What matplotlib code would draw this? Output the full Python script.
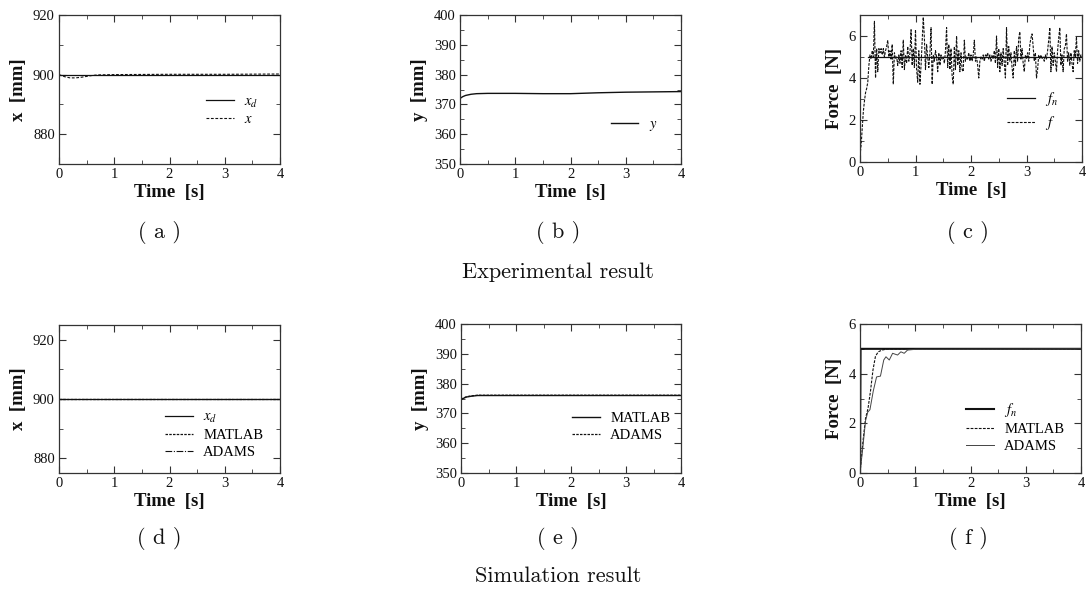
import numpy as np
import matplotlib
matplotlib.use("Agg")
import matplotlib.pyplot as plt
from matplotlib.ticker import MultipleLocator

plt.rcParams["font.family"] = ["Liberation Serif", "DejaVu Serif"]
plt.rcParams["mathtext.fontset"] = "stix"

W, H = 1090, 594
INK = "#111111"
SPINE = "#333333"

# ---- (a) experimental x ----
t_a = [0.0, 0.1, 0.2, 0.3, 0.4, 0.5, 0.6, 0.7, 1.0, 2.0, 3.0, 4.0]
xd_a = [900.0] * len(t_a)
x_a = [900.0, 899.3, 898.9, 898.9, 899.1, 899.4, 899.7, 899.9, 900.0, 900.1, 900.1, 900.2]

# ---- (b) experimental y ----
t_b = [0.0, 0.05, 0.1, 0.2, 0.3, 0.5, 1.0, 1.5, 2.0, 2.5, 3.0, 3.5, 4.0]
y_b = [372.0, 372.6, 373.0, 373.4, 373.6, 373.7, 373.7, 373.6, 373.6, 373.9, 374.1, 374.2, 374.3]

# ---- (c) experimental force ----
t_fn_c = [0.15, 4.0]
fn_c = [5.0, 5.0]
f_c = [
    0.3, 0.8, 1.6, 2.4, 2.9, 3.3, 3.5, 3.8, 4.6, 5.1,
    4.9, 5.3, 5.0, 6.7, 4.0, 5.4, 4.3, 5.4, 5.2, 5.4,
    5.1, 5.4, 5.0, 5.3, 5.5, 5.8, 5.0, 5.3, 4.9, 5.6,
    3.7, 5.2, 4.9, 5.0, 4.6, 5.1, 4.7, 5.3, 4.5, 5.8,
    4.4, 5.1, 4.7, 5.5, 4.8, 5.2, 6.3, 4.6, 5.4, 4.5,
    6.3, 4.4, 3.8, 5.3, 3.7, 4.6, 5.7, 6.9, 5.9, 4.4,
    5.6, 5.0, 4.5, 5.2, 6.4, 3.7, 5.1, 4.8, 5.3, 5.0,
    4.3, 5.2, 4.6, 5.1, 4.9, 5.0, 4.7, 5.3, 6.4, 4.5,
    5.6, 4.4, 5.4, 4.1, 3.7, 5.5, 4.4, 6.0, 4.6, 5.3,
    4.3, 5.2, 4.4, 4.3, 5.8, 4.8, 5.0, 4.9, 5.2, 4.8,
    5.1, 4.8, 5.1, 5.8, 4.8, 5.0, 4.6, 4.0, 4.8, 5.0,
    4.9, 5.1, 4.8, 5.1, 5.0, 5.2, 4.9, 5.1, 4.8, 5.1,
    4.9, 5.3, 4.7, 6.0, 4.5, 5.4, 4.3, 5.2, 4.6, 5.4,
    4.7, 4.0, 6.4, 4.6, 5.5, 4.8, 5.2, 4.5, 4.0, 5.3,
    4.6, 5.5, 4.8, 5.9, 6.2, 4.9, 5.4, 4.7, 4.3, 5.1,
    4.9, 5.2, 4.8, 5.6, 5.9, 6.1, 5.5, 4.8, 5.2, 4.0,
    4.4, 5.1, 4.9, 5.1, 4.9, 5.0, 4.8, 5.1, 4.9, 5.3,
    5.8, 6.4, 4.3, 5.5, 4.6, 5.2, 4.8, 4.3, 5.3, 5.9,
    6.4, 4.6, 5.1, 4.3, 5.4, 5.5, 6.1, 4.8, 5.2, 4.6,
    5.2, 4.7, 4.3, 5.3, 5.0, 5.96, 4.7, 5.3, 4.8, 5.1,
    5.0,
]
t_c = np.linspace(0, 4, len(f_c))

# ---- (d) simulated x ----
t_d = [0.0, 4.0]
xd_d = [900.0, 900.0]
matlab_d = [900.0, 900.0]
adams_d = [900.0, 900.0]

# ---- (e) simulated y ----
t_e = [0.0, 0.05, 0.1, 0.2, 0.3, 0.5, 1.0, 2.0, 3.0, 4.0]
matlab_e = [374.6, 375.1, 375.5, 375.8, 376.0, 376.0, 376.0, 376.0, 376.0, 376.0]
adams_e = [374.7, 375.2, 375.6, 375.9, 376.1, 376.1, 376.1, 376.1, 376.1, 376.1]

# ---- (f) simulated force ----
t_fn_f = [0.0, 0.01, 4.0]
fn_f = [0.0, 5.0, 5.0]
t_mat_f = [0.0, 0.05, 0.1, 0.145, 0.19, 0.235, 0.28, 0.33, 0.4, 0.5, 4.0]
mat_f = [0.0, 1.2, 2.2, 2.6, 3.3, 4.15, 4.7, 4.88, 4.95, 5.0, 5.0]
t_ad_f = [0.0, 0.05, 0.1, 0.14, 0.18, 0.24, 0.3, 0.37, 0.43, 0.47, 0.53, 0.59, 0.68,
          0.74, 0.8, 0.86, 1.0, 4.0]
ad_f = [0.0, 1.0, 2.1, 2.45, 2.55, 3.3, 3.87, 3.9, 4.55, 4.68, 4.55, 4.82, 4.75,
        4.88, 4.82, 4.95, 4.98, 5.0]

captions_top = ["( a )", "( b )", "( c )"]
captions_bot = ["( d )", "( e )", "( f )"]

fig = plt.figure(figsize=(W / 100, H / 100), dpi=100, facecolor="white")


def make_ax(l, t, r, b):
    ax = fig.add_axes([l / W, 1 - b / H, (r - l) / W, (b - t) / H])
    for s in ax.spines.values():
        s.set_color(SPINE)
        s.set_linewidth(0.9)
    ax.tick_params(which="both", direction="in", top=True, right=True,
                   colors=SPINE, labelcolor=INK, labelsize=10.5, pad=3)
    ax.tick_params(which="major", length=5, width=0.8)
    ax.tick_params(which="minor", length=3, width=0.6)
    ax.set_xlim(0, 4)
    ax.xaxis.set_major_locator(MultipleLocator(1))
    ax.xaxis.set_minor_locator(MultipleLocator(0.5))
    ax.set_xlabel("Time  [s]", fontsize=13.5, fontweight="bold", color=INK, labelpad=2)
    return ax


def leg(ax, x, y, spacing=0.25):
    return ax.legend(loc="upper left", bbox_to_anchor=(x, y), frameon=False, fontsize=10.5,
                     handlelength=1.9, handletextpad=0.7, labelspacing=spacing,
                     borderaxespad=0)


lefts = [59, 460, 860]
rights = [280, 681, 1081]
tops = [15, 324]
bots = [164, 473]

# (a)
ax = make_ax(lefts[0], tops[0], rights[0], bots[0])
ax.plot(t_a, xd_a, color=INK, lw=0.9, label="$x_d$")
ax.plot(t_a, x_a, color=INK, lw=0.8, ls=(0, (2.5, 1.5)), label="$x$")
ax.set_ylim(870, 920)
ax.yaxis.set_major_locator(MultipleLocator(20))
ax.yaxis.set_minor_locator(MultipleLocator(10))
ax.set_ylabel("x  [mm]", fontsize=13.5, fontweight="bold", color=INK, labelpad=4)
leg(ax, 0.64, 0.50)

# (b)
ax = make_ax(lefts[1], tops[0], rights[1], bots[0])
ax.plot(t_b, y_b, color=INK, lw=1.0, label="$y$")
ax.set_ylim(350, 400)
ax.yaxis.set_major_locator(MultipleLocator(10))
ax.yaxis.set_minor_locator(MultipleLocator(5))
ax.set_ylabel("y  [mm]", fontsize=13.5, fontweight="bold", color=INK, labelpad=4)
leg(ax, 0.655, 0.35)

# (c)
ax = make_ax(lefts[2], tops[0], rights[2] + 1, bots[0] - 2)
ax.plot(t_fn_c, fn_c, color=INK, lw=0.9, label="$f_n$")
ax.plot(t_c, f_c, color=INK, lw=0.8, ls=(0, (2.5, 1.2)), label="$f$")
ax.set_ylim(0, 7)
ax.yaxis.set_major_locator(MultipleLocator(2))
ax.yaxis.set_minor_locator(MultipleLocator(1))
ax.set_ylabel("Force  [N]", fontsize=13.5, fontweight="bold", color=INK, labelpad=4)
leg(ax, 0.635, 0.53, spacing=0.45)

# (d)
ax = make_ax(lefts[0], tops[1] + 1, rights[0], bots[1])
ax.plot(t_d, xd_d, color=INK, lw=0.9, label="$x_d$")
ax.plot(t_d, matlab_d, color=INK, lw=0.9, ls=(0, (2, 1)), label="MATLAB")
ax.plot(t_d, adams_d, color=INK, lw=0.8, ls=(0, (6, 1.5, 1, 1.5)), label="ADAMS")
ax.set_ylim(875, 925)
ax.yaxis.set_major_locator(MultipleLocator(20))
ax.yaxis.set_minor_locator(MultipleLocator(10))
ax.set_ylabel("x  [mm]", fontsize=13.5, fontweight="bold", color=INK, labelpad=4)
leg(ax, 0.455, 0.46)

# (e)
ax = make_ax(lefts[1] + 1, tops[1], rights[1], bots[1])
ax.plot(t_e, matlab_e, color=INK, lw=1.0, label="MATLAB")
ax.plot(t_e, adams_e, color=INK, lw=0.9, ls=(0, (2, 1)), label="ADAMS")
ax.set_ylim(350, 400)
ax.yaxis.set_major_locator(MultipleLocator(10))
ax.yaxis.set_minor_locator(MultipleLocator(5))
ax.set_ylabel("y  [mm]", fontsize=13.5, fontweight="bold", color=INK, labelpad=4)
leg(ax, 0.48, 0.45)

# (f)
ax = make_ax(lefts[2], tops[1], rights[2], bots[1])
ax.plot(t_fn_f, fn_f, color=INK, lw=1.5, label="$f_n$")
ax.plot(t_mat_f, mat_f, color=INK, lw=0.8, ls=(0, (2.5, 1.2)), label="MATLAB")
ax.plot(t_ad_f, ad_f, color="#444444", lw=0.7, label="ADAMS")
ax.set_ylim(0, 6)
ax.yaxis.set_major_locator(MultipleLocator(2))
ax.yaxis.set_minor_locator(MultipleLocator(1))
ax.set_ylabel("Force  [N]", fontsize=13.5, fontweight="bold", color=INK, labelpad=4)
leg(ax, 0.455, 0.52)

# captions
cap_x = [159, 558, 968]
for i, c in enumerate(captions_top):
    fig.text(cap_x[i] / W, 1 - 233 / H, c, family="cmr10", fontsize=16,
             ha="center", va="center", color=INK)
for i, c in enumerate(captions_bot):
    fig.text(cap_x[i] / W, 1 - 539 / H, c, family="cmr10", fontsize=16,
             ha="center", va="center", color=INK)
fig.text(558 / W, 1 - 272 / H, "Experimental result", family="cmr10", fontsize=16,
         ha="center", va="center", color=INK)
fig.text(558 / W, 1 - 576 / H, "Simulation result", family="cmr10", fontsize=16,
         ha="center", va="center", color=INK)

fig.savefig("out.png", dpi=100, facecolor="white")
